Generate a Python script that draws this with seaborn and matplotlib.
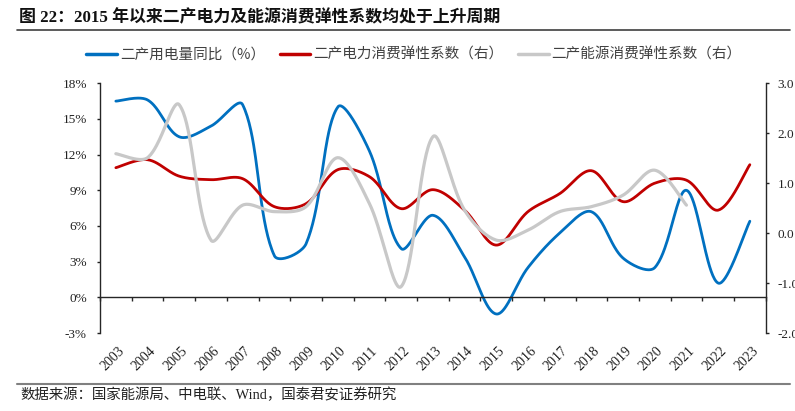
import numpy as np
import matplotlib
matplotlib.use("Agg")
import matplotlib.pyplot as plt
import matplotlib.transforms as mtransforms
from matplotlib.lines import Line2D
import seaborn as sns

# %% data
years = list(range(2003, 2024))
elec_yoy = [16.5, 16.6, 13.5, 14.4, 16.2, 3.5, 4.5, 16.0, 12.3, 4.1,
            6.9, 3.4, -1.4, 2.5, 5.4, 7.2, 3.3, 2.5, 9.0, 1.2, 6.4]
elec_elastic = [1.31, 1.47, 1.14, 1.07, 1.09, 0.53, 0.59, 1.27, 1.13, 0.49,
                0.87, 0.46, -0.24, 0.43, 0.79, 1.25, 0.63, 1.00, 1.06, 0.46, 1.37]
energy_elastic = [1.59, 1.51, 2.57, -0.14, 0.56, 0.43, 0.53, 1.51, 0.59, -1.07,
                  1.93, 0.46, -0.14, 0.06, 0.43, 0.53, 0.76, 1.26, 0.56]
left_ticks = [-3, 0, 3, 6, 9, 12, 15, 18]
right_ticks = [-2.0, -1.0, 0.0, 1.0, 2.0, 3.0]

title = "图 22：2015 年以来二产电力及能源消费弹性系数均处于上升周期"
source = "数据来源：国家能源局、中电联、Wind，国泰君安证券研究"
labels = ["二产用电量同比（%）", "二产电力消费弹性系数（右）", "二产能源消费弹性系数（右）"]
colors = ["#0070C0", "#C00000", "#C8C8C8"]

# axes box in pixels (figure is 795 x 411)
AX_L, AX_R, AX_T, AX_B = 100, 765.7, 83.3, 333


def smooth(values, px_per_x, px_per_y, n=40):
    # Excel-like smoothed line: cubic bezier, control arms weighted by the
    # on-screen length of neighbouring segments
    p = np.column_stack([np.arange(len(values)) * px_per_x,
                         np.array(values, dtype=float) * px_per_y])
    m = len(p)
    c_in = p.copy()
    c_out = p.copy()
    for i in range(m):
        a = p[max(i - 1, 0)]
        b = p[min(i + 1, m - 1)]
        d = b - a
        l1 = np.hypot(*(p[i] - a))
        l2 = np.hypot(*(b - p[i]))
        s = l1 + l2 if l1 + l2 > 0 else 1.0
        if i == 0 or i == m - 1:
            c_in[i] = p[i] - d / 6
            c_out[i] = p[i] + d / 6
        else:
            c_in[i] = p[i] - d * (l1 / s) / 3
            c_out[i] = p[i] + d * (l2 / s) / 3
    t = np.linspace(0, 1, n, endpoint=False)[:, None]
    seg = []
    for i in range(m - 1):
        q = ((1 - t) ** 3 * p[i] + 3 * t * (1 - t) ** 2 * c_out[i]
             + 3 * t ** 2 * (1 - t) * c_in[i + 1] + t ** 3 * p[i + 1])
        seg.append(q)
    seg.append(p[-1:])
    q = np.vstack(seg)
    return q[:, 0] / px_per_x, q[:, 1] / px_per_y


sns.set_style("ticks")
plt.rcParams["font.family"] = ["Liberation Serif", "Noto Sans CJK SC"]
plt.rcParams["axes.linewidth"] = 1.0

fig = plt.figure(figsize=(7.95, 4.11), dpi=100)
ax = fig.add_axes([AX_L / 795, 1 - AX_B / 411, (AX_R - AX_L) / 795, (AX_B - AX_T) / 411])
ax2 = ax.twinx()

px_x = (AX_R - AX_L) / len(years)
px_left = (AX_B - AX_T) / (left_ticks[-1] - left_ticks[0])
px_right = (AX_B - AX_T) / (right_ticks[-1] - right_ticks[0])

x, y = smooth(elec_yoy, px_x, px_left)
sns.lineplot(x=x, y=y, ax=ax, sort=False, color=colors[0], linewidth=2.0)
x, y = smooth(elec_elastic, px_x, px_right)
sns.lineplot(x=x, y=y, ax=ax2, sort=False, color=colors[1], linewidth=2.0)
x, y = smooth(energy_elastic, px_x, px_right)
sns.lineplot(x=x, y=y, ax=ax2, sort=False, color=colors[2], linewidth=2.3)

ax.set_xlim(-0.5, len(years) - 0.5)
ax.set_ylim(left_ticks[0], left_ticks[-1])
ax2.set_ylim(right_ticks[0], right_ticks[-1])
ax.set_yticks(left_ticks)
ax.set_yticklabels([f"{v}%" for v in left_ticks])
ax2.set_yticks(right_ticks)
ax2.set_yticklabels([f"{v:.1f}" for v in right_ticks])

ax.spines["top"].set_visible(False)
ax.spines["right"].set_visible(False)
ax.spines["bottom"].set_position(("data", 0))
for s in ["top", "left", "bottom"]:
    ax2.spines[s].set_visible(False)
ax2.spines["right"].set_visible(True)

ax.set_xticks(np.arange(-0.5, len(years)))
ax.set_xticklabels([])
ax.tick_params(axis="x", direction="out", length=3, width=1.0)
ax.tick_params(axis="y", direction="out", length=2.5, width=1.0, pad=7,
               labelsize=9.5, colors="#222222")
ax2.tick_params(axis="y", direction="out", length=2.5, width=1.0, pad=6,
                labelsize=9.5, colors="#222222")
for a in (ax, ax2):
    a.set_xlabel("")
    a.set_ylabel("")

trans = mtransforms.blended_transform_factory(ax.transData, ax.transAxes)
for i, yr in enumerate(years):
    ax.text(i + 0.05, -0.045, str(yr), transform=trans, rotation=45,
            ha="right", va="top", rotation_mode="anchor", fontsize=10,
            color="#222222")

handles = [Line2D([], [], color=c, linewidth=2.5) for c in colors]
fig.legend(handles, labels, loc="center", bbox_to_anchor=(414 / 795, 1 - 55 / 411),
           ncol=3, frameon=False, handlelength=2.1, handletextpad=0.2,
           columnspacing=1.0, prop={"family": ["Noto Sans CJK SC"], "size": 10.5},
           labelcolor="#404040")

fig.text(19 / 795, 1 - 18 / 411, title, fontsize=12.2, fontweight="bold",
         va="center", ha="left", color="#111111",
         family=["Liberation Serif", "Noto Sans CJK SC"])
fig.add_artist(Line2D([17 / 795, 790 / 795], [1 - 30 / 411] * 2,
                      color="#404040", linewidth=1.2))
fig.add_artist(Line2D([17 / 795, 790 / 795], [1 - 384 / 411] * 2,
                      color="#808080", linewidth=1.5))
fig.text(20 / 795, 1 - 395 / 411, source, fontsize=10.4, va="center", ha="left",
         color="#222222", family=["Liberation Serif", "Noto Sans CJK SC"])

fig.savefig("out.png", dpi=100)
